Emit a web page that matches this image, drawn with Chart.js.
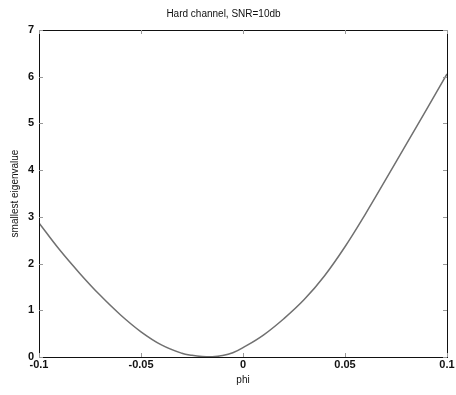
<!DOCTYPE html>
<html>
<head>
<meta charset="utf-8">
<script src="https://cdn.jsdelivr.net/npm/chart.js@4/dist/chart.umd.min.js"></script>
<style>
  html, body { margin: 0; padding: 0; background: #fff; }
  #wrap { width: 456px; height: 395px; }
</style>
</head>
<body>
<div id="wrap"><canvas id="eig"></canvas></div>
<script>
// phase offset vs. smallest eigenvalue
const phi = [-0.1, -0.09, -0.08, -0.07, -0.06, -0.05, -0.04, -0.03, -0.025, -0.02, -0.015,
             -0.01, -0.005, 0, 0.01, 0.02, 0.03, 0.04, 0.05, 0.06, 0.07, 0.08, 0.09, 0.1];
const eigen = [2.87, 2.30, 1.79, 1.32, 0.90, 0.54, 0.26, 0.08, 0.035, 0.01, 0.005,
               0.03, 0.09, 0.2, 0.47, 0.82, 1.23, 1.74, 2.36, 3.06, 3.8, 4.55, 5.3, 6.06];
const xTicks = [-0.1, -0.05, 0, 0.05, 0.1];
const xTickLabels = ['-0.1', '-0.05', '0', '0.05', '0.1'];
const yTicks = [0, 1, 2, 3, 4, 5, 6, 7];

const points = phi.map((p, i) => ({ x: p, y: eigen[i] }));

// box around the axes with short inward tick marks
const boxPlugin = {
  id: 'box',
  afterDraw(chart) {
    const { ctx, chartArea: a, scales } = chart;
    ctx.save();
    ctx.strokeStyle = '#111';
    ctx.lineWidth = 1;
    ctx.strokeRect(a.left + 0.5, a.top + 0.5, a.right - a.left, a.bottom - a.top);
    ctx.strokeStyle = '#999';
    ctx.beginPath();
    xTicks.forEach(v => {
      const x = Math.round(scales.x.getPixelForValue(v)) + 0.5;
      ctx.moveTo(x, a.bottom); ctx.lineTo(x, a.bottom - 4);
      ctx.moveTo(x, a.top); ctx.lineTo(x, a.top + 4);
    });
    yTicks.forEach(v => {
      const y = Math.round(scales.y.getPixelForValue(v)) + 0.5;
      ctx.moveTo(a.left, y); ctx.lineTo(a.left + 4, y);
      ctx.moveTo(a.right, y); ctx.lineTo(a.right - 4, y);
    });
    ctx.stroke();
    ctx.restore();
  }
};

new Chart(document.getElementById('eig'), {
  type: 'line',
  data: {
    datasets: [{
      data: points,
      borderColor: '#707070',
      borderWidth: 1.5,
      pointRadius: 0,
      tension: 0.4,
      fill: false
    }]
  },
  options: {
    responsive: true,
    maintainAspectRatio: false,
    animation: false,
    layout: { padding: { right: 9, left: 0, bottom: 0, top: 0 } },
    plugins: {
      legend: { display: false },
      tooltip: { enabled: false },
      title: {
        display: true,
        text: 'Hard channel, SNR=10db',
        color: '#111',
        font: { family: 'Liberation Sans', size: 10, weight: 'normal' },
        padding: { top: 8, bottom: 10 }
      }
    },
    scales: {
      x: {
        type: 'linear',
        min: -0.1,
        max: 0.1,
        afterFit(scale) { scale.height = 38; },
        afterBuildTicks(scale) { scale.ticks = xTicks.map(v => ({ value: v })); },
        ticks: {
          color: '#111',
          padding: 1,
          maxRotation: 0,
          font: { family: 'Liberation Sans', size: 11, weight: 'bold' },
          callback: (v) => xTickLabels[xTicks.indexOf(v)] ?? ''
        },
        grid: { display: false, drawTicks: false },
        border: { display: false },
        title: {
          display: true,
          text: 'phi',
          color: '#111',
          font: { family: 'Liberation Sans', size: 10 },
          padding: { top: 0, bottom: 9 }
        }
      },
      y: {
        min: 0,
        max: 7,
        afterFit(scale) { scale.width = 39; },
        afterBuildTicks(scale) { scale.ticks = yTicks.map(v => ({ value: v })); },
        ticks: {
          color: '#111',
          padding: 5,
          font: { family: 'Liberation Sans', size: 11, weight: 'bold' }
        },
        grid: { display: false, drawTicks: false },
        border: { display: false },
        title: {
          display: true,
          text: 'smallest eigenvalue',
          color: '#111',
          font: { family: 'Liberation Sans', size: 10 },
          padding: { top: 9, bottom: 0 }
        }
      }
    }
  },
  plugins: [boxPlugin]
});
</script>
</body>
</html>
